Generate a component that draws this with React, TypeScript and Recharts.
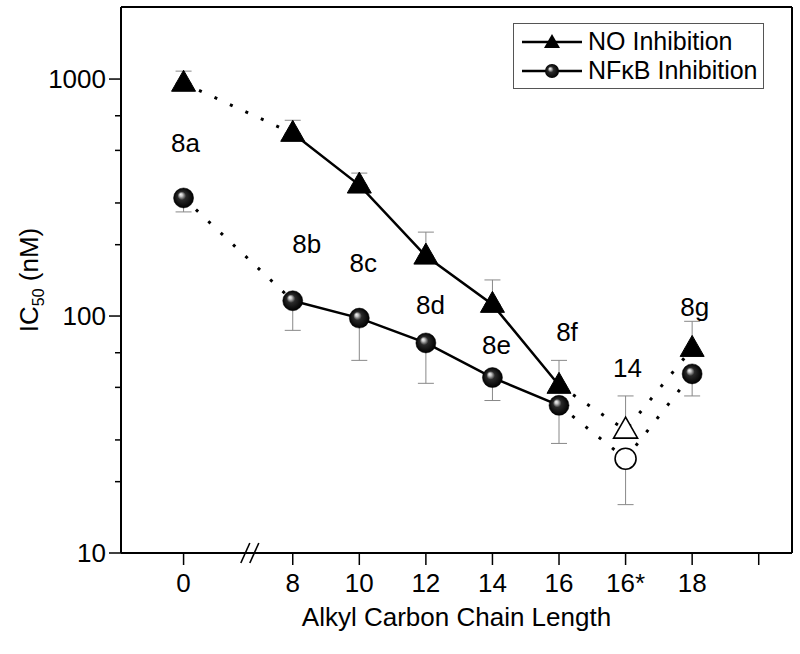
import React from 'react';
import {
  ComposedChart, Line, Scatter, XAxis, YAxis, ErrorBar, ReferenceLine, ReferenceDot, Legend, Label,
} from 'recharts';

const chainLabels = ['0', '8', '10', '12', '14', '16', '16*', '18'];
const chainPos = [0.36, 2, 3, 4, 5, 6, 7, 8];
const noIc50 = [960, 590, 357, 179, 112, 51, 33, 73];
const noErrUp = [120, 80, 44, 47, 30, 14, 13, 22];
const nfkbIc50 = [315, 116, 98, 77, 55, 42, 25, 57];
const nfkbErrDown = [40, 29, 33, 25, 11, 13, 9, 11];
const compoundNames = ['8a', '8b', '8c', '8d', '8e', '8f', '14', '8g'];
const nameX = [0.39, 2.21, 3.06, 4.07, 5.06, 6.12, 7.03, 8.04];
const nameY = [537, 201, 168, 111, 75.5, 85.5, 60.4, 109];
const xTicks = [...chainPos, 9];
const yTicks = [10, 20, 30, 40, 50, 60, 70, 80, 90, 100, 200, 300, 400, 500, 600, 700, 800, 900, 1000];
const X_MIN = -0.58;
const X_MAX = 9.5;
const Y_MIN = 10;
const Y_MAX = 2014;
const BREAK_AT = 1.4;

const FONT = '"Liberation Sans", Arial, sans-serif';
const FS = 26;

const noPoints = chainLabels.map((c, i) => ({
  x: chainPos[i], y: noIc50[i], err: [0, noErrUp[i]], open: c === '16*',
}));
const nfkbPoints = chainLabels.map((c, i) => ({
  x: chainPos[i], y: nfkbIc50[i], err: [nfkbErrDown[i], 0], open: c === '16*',
}));
const names = compoundNames.map((n, i) => ({ x: nameX[i], y: nameY[i], name: n }));

// solid 8..16, dotted 0->8 and 16->16*->18
const noSolid = noPoints.slice(1, 6);
const noDotA = noPoints.slice(0, 2);
const noDotB = noPoints.slice(5, 8);
const nfSolid = nfkbPoints.slice(1, 6);
const nfDotA = nfkbPoints.slice(0, 2);
const nfDotB = nfkbPoints.slice(5, 8);

const Triangle = (p: any) => {
  const { cx, cy, payload } = p;
  const pts = `${cx},${cy - 13} ${cx - 12},${cy + 8} ${cx + 12},${cy + 8}`;
  return payload.open
    ? <polygon points={pts} fill="#fff" stroke="#000" strokeWidth={1.6} />
    : <polygon points={pts} fill="#000" stroke="#000" strokeWidth={1} />;
};

const Sphere = (p: any) => {
  const { cx, cy, payload } = p;
  return payload.open
    ? <circle cx={cx} cy={cy} r={10.5} fill="#fff" stroke="#000" strokeWidth={1.6} />
    : <circle cx={cx} cy={cy} r={10} fill="url(#sphere)" stroke="#000" strokeWidth={0.5} />;
};

const NameText = (p: any) => (
  <text x={p.cx} y={p.cy} textAnchor="middle" dominantBaseline="central" fontSize={FS} fontFamily={FONT} fill="#000">
    {p.payload.name}
  </text>
);

const XTick = (p: any) => {
  const { x, y, payload } = p;
  const i = chainPos.indexOf(payload.value);
  return (
    <g>
      <line x1={x} x2={x} y1={y - 12} y2={y} stroke="#000" strokeWidth={1.5} />
      <text x={x} y={y + 27} textAnchor="middle" fontSize={FS} fontFamily={FONT} fill="#000">
        {i >= 0 ? chainLabels[i] : ''}
      </text>
    </g>
  );
};

const YTick = (p: any) => {
  const { x, y, payload } = p;
  const major = [10, 100, 1000].includes(payload.value);
  return (
    <g>
      <line x1={major ? x : x + 6} x2={x + 12} y1={y} y2={y} stroke="#000" strokeWidth={1.5} />
      {major && (
        <text x={x - 3} y={y} dy="0.36em" textAnchor="end" fontSize={FS} fontFamily={FONT} fill="#000">
          {payload.value}
        </text>
      )}
    </g>
  );
};

const AxisBreak = (p: any) => {
  const { cx, cy } = p;
  return (
    <g stroke="#000" strokeWidth={1.6}>
      <line x1={cx - 12} y1={cy + 10} x2={cx - 3} y2={cy - 10} />
      <line x1={cx - 3} y1={cy + 10} x2={cx + 6} y2={cy - 10} />
    </g>
  );
};

const YTitle = (p: any) => {
  const { viewBox } = p;
  const cy = viewBox.y + viewBox.height / 2;
  return (
    <text x={38} y={cy} transform={`rotate(-90 38 ${cy})`} textAnchor="middle" fontSize={FS} fontFamily={FONT} fill="#000">
      IC<tspan fontSize={16} dy={6}>50</tspan><tspan dy={-6}> (nM)</tspan>
    </text>
  );
};

const LegendBox = () => (
  <div style={{
    border: '1.5px solid #555', background: '#fff', padding: '3px 5px 3px 8px',
    fontFamily: FONT, fontSize: 25, lineHeight: '29px', color: '#000', whiteSpace: 'nowrap',
  }}>
    <div style={{ display: 'flex', alignItems: 'center' }}>
      <svg width={62} height={20}>
        <line x1={0} x2={60} y1={10} y2={10} stroke="#000" strokeWidth={2.5} />
        <polygon points="30,2 22,16 38,16" fill="#000" />
      </svg>
      <span style={{ marginLeft: 4 }}>NO Inhibition</span>
    </div>
    <div style={{ display: 'flex', alignItems: 'center' }}>
      <svg width={62} height={20}>
        <line x1={0} x2={60} y1={10} y2={10} stroke="#000" strokeWidth={2.5} />
        <circle cx={30} cy={10} r={7} fill="url(#sphere)" />
      </svg>
      <span style={{ marginLeft: 4 }}>NF&kappa;B Inhibition</span>
    </div>
  </div>
);

export default function App() {
  return (
    <div style={{ position: 'absolute', left: 0, top: 0, background: '#fff' }}>
      <ComposedChart width={800} height={654} margin={{ top: 7, right: 8, left: 0, bottom: 0 }}>
        <defs>
          <radialGradient id="sphere" cx="0.5" cy="0.5" r="0.5" fx="0.35" fy="0.32">
            <stop offset="0%" stopColor="#f5f5f5" />
            <stop offset="15%" stopColor="#c8c8c8" />
            <stop offset="42%" stopColor="#2a2a2a" />
            <stop offset="100%" stopColor="#000" />
          </radialGradient>
        </defs>
        <XAxis
          type="number" dataKey="x" domain={[X_MIN, X_MAX]} ticks={xTicks} allowDataOverflow
          height={101} tickSize={12} tickMargin={0} tickLine={false} tick={<XTick />}
          axisLine={{ stroke: '#000', strokeWidth: 2 }}
        >
          <Label value="Alkyl Carbon Chain Length" position="insideBottom" offset={28}
            style={{ fontSize: FS, fontFamily: FONT, fill: '#000' }} />
        </XAxis>
        <YAxis
          type="number" dataKey="y" scale="log" domain={[Y_MIN, Y_MAX]} ticks={yTicks} allowDataOverflow
          width={121} tickSize={12} tickMargin={0} tickLine={false} tick={<YTick />}
          axisLine={{ stroke: '#000', strokeWidth: 2 }}
        >
          <Label content={<YTitle />} />
        </YAxis>
        <ReferenceLine y={Y_MAX} stroke="#000" strokeWidth={2} ifOverflow="visible" />
        <ReferenceLine x={X_MAX} stroke="#000" strokeWidth={2} ifOverflow="visible" />
        <ReferenceDot x={BREAK_AT} y={Y_MIN} shape={<AxisBreak />} ifOverflow="visible" />

        <Line data={noSolid} dataKey="y" stroke="#000" strokeWidth={2.5} dot={false} isAnimationActive={false} legendType="none" />
        <Line data={nfSolid} dataKey="y" stroke="#000" strokeWidth={2.5} dot={false} isAnimationActive={false} legendType="none" />
        <Line data={noDotA} dataKey="y" stroke="#000" strokeWidth={3} strokeDasharray="3 14" dot={false} isAnimationActive={false} legendType="none" />
        <Line data={nfDotA} dataKey="y" stroke="#000" strokeWidth={3} strokeDasharray="3 14" dot={false} isAnimationActive={false} legendType="none" />
        <Line data={noDotB} dataKey="y" stroke="#000" strokeWidth={3} strokeDasharray="3 14" dot={false} isAnimationActive={false} legendType="none" />
        <Line data={nfDotB} dataKey="y" stroke="#000" strokeWidth={3} strokeDasharray="3 14" dot={false} isAnimationActive={false} legendType="none" />

        <Scatter name="NO Inhibition" data={noPoints} dataKey="y" shape={<Triangle />} isAnimationActive={false}>
          <ErrorBar dataKey="err" direction="y" width={8} stroke="#888" strokeWidth={1} />
        </Scatter>
        <Scatter name="NFκB Inhibition" data={nfkbPoints} dataKey="y" shape={<Sphere />} isAnimationActive={false}>
          <ErrorBar dataKey="err" direction="y" width={8} stroke="#888" strokeWidth={1} />
        </Scatter>
        <Scatter data={names} dataKey="y" shape={<NameText />} isAnimationActive={false} legendType="none" />

        <Legend
          content={<LegendBox />} layout="vertical" align="center" verticalAlign="middle"
          wrapperStyle={{ position: 'absolute', left: 513, top: 23, width: 'auto', bottom: 'auto' }}
        />
      </ComposedChart>
    </div>
  );
}
